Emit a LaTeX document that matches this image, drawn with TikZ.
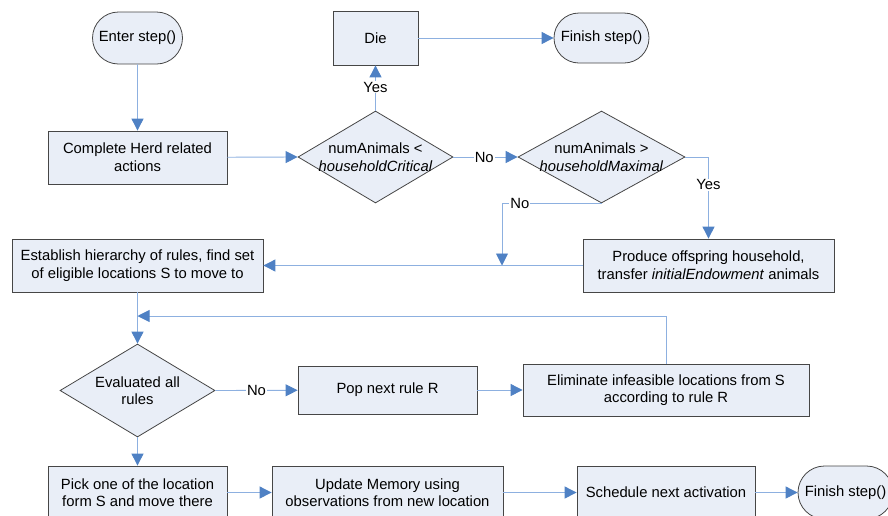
\documentclass[tikz,border=0pt]{standalone}
\usepackage{fontspec}
\setmainfont{Liberation Sans}
\usetikzlibrary{shapes.geometric,shapes.misc,arrows.meta}

\definecolor{boxfill}{RGB}{233,238,247}
\definecolor{boxline}{RGB}{70,70,70}
\definecolor{linkline}{RGB}{141,176,224}
\definecolor{linkhead}{RGB}{79,129,196}

\tikzset{
  base/.style={draw=boxline, fill=boxfill, line width=0.8pt, inner sep=0pt,
    font=\fontsize{14.8}{17.6}\selectfont, align=center},
  procbox/.style={base, rectangle},
  termbox/.style={base, rounded rectangle, minimum width=90pt, minimum height=52pt},
  decision/.style={base, diamond},
  dtext/.style={font=\fontsize{14.8}{17.6}\selectfont, align=center},
  link/.style={draw=linkline, line width=0.9pt,
    -{Triangle[length=12pt,width=12pt,fill=linkhead,color=linkhead]}},
  tag/.style={fill=white, inner sep=1pt, font=\fontsize{14.8}{17.6}\selectfont}
}

\begin{document}
\begin{tikzpicture}[x=1pt, y=-1pt]
\useasboundingbox (0,0) rectangle (888,515);
\clip (0,0) rectangle (888,515);

% terminals
\node[termbox] (enter) at (137.5,38) {Enter step()};
\node[termbox, minimum width=95pt, minimum height=50pt] (fin1) at (601.5,38) {Finish step()};
\node[termbox, minimum width=95pt, minimum height=53pt] (fin2) at (845.5,492.5) {Finish step()};

% process boxes
\node[procbox, minimum width=179pt, minimum height=53pt] (herd) at (137.5,157.5)
  {Complete Herd related\\actions};
\node[procbox, minimum width=85pt, minimum height=54pt] (die) at (375.5,38) {Die};
\node[procbox, minimum width=251pt, minimum height=53pt] (prod) at (708.5,265.5)
  {Produce offspring household,\\transfer \textit{initialEndowment} animals};
\node[procbox, minimum width=251pt, minimum height=53pt] (est) at (137.5,265.5)
  {Establish hierarchy of rules, find set\\of eligible locations S to move to};
\node[procbox, minimum width=179pt, minimum height=48pt] (pop) at (387.5,390) {Pop next rule R};
\node[procbox, minimum width=286pt, minimum height=52pt] (elim) at (666,390)
  {Eliminate infeasible locations from S\\according to rule R};
\node[procbox, minimum width=179pt, minimum height=53pt] (pick) at (137.5,492.5)
  {Pick one of the location\\form S and move there};
\node[procbox, minimum width=231pt, minimum height=53pt] (upd) at (387.5,492.5)
  {Update Memory using\\observations from new location};
\node[procbox, minimum width=178pt, minimum height=53pt] (sched) at (666,492.5)
  {Schedule next activation};

% decisions: the diamond outline, with its text set on top
\node[decision, minimum width=155pt, minimum height=92pt] (crit) at (375.5,157) {};
\node[dtext] (critT) at (crit.center) {numAnimals <\\\textit{householdCritical}};
\node[decision, minimum width=167pt, minimum height=92pt] (maxi) at (601.5,157) {};
\node[dtext] (maxiT) at (maxi.center) {numAnimals >\\\textit{householdMaximal}};
\node[decision, minimum width=155pt, minimum height=93pt] (evalr) at (137.5,390.5) {};
\node[dtext] (evalT) at (evalr.center) {Evaluated all\\rules};

% junction points on existing lines
\coordinate (joinA) at (502,265.5);
\coordinate (joinB) at (137.5,316);

% connectors
\draw[link] (enter) -- (herd);
\draw[link] (herd) -- (crit.west);
\draw[link] (crit.north) -- node[tag, pos=0.52] (yes1) {Yes} (die);
\draw[link] (die) -- (fin1);
\draw[link] (crit.east) -- node[tag, pos=0.48] (no1) {No} (maxi.west);
\draw[link] (maxi.east) -| node[tag, pos=0.67] (yes2) {Yes} (prod.north);
\draw[link] (maxi.south) -| node[tag, pos=0.41] (no2) {No} (joinA);
\draw[link] (prod.west) -- (est.east);
\draw[link] (est) -- (evalr.north);
\draw[link] (elim.north) |- (joinB);
\draw[link] (evalr.east) -- node[tag, pos=0.5] (no3) {No} (pop);
\draw[link] (pop) -- (elim);
\draw[link] (evalr.south) -- (pick);
\draw[link] (pick) -- (upd);
\draw[link] (upd) -- (sched);
\draw[link] (sched) -- (fin2);
\end{tikzpicture}
\end{document}
